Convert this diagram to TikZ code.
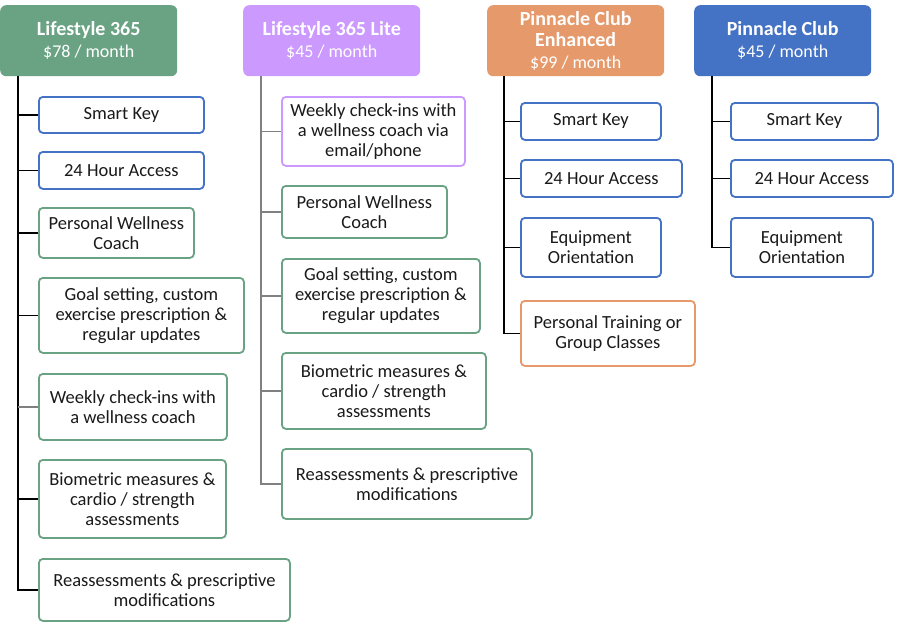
\documentclass[tikz,border=0pt]{standalone}
\usepackage{fontspec}
\setmainfont{Carlito}
\usetikzlibrary{positioning}

\definecolor{lsgreen}{HTML}{6AA384}
\definecolor{lspurple}{HTML}{CC99FF}
\definecolor{pcorange}{HTML}{E69A6C}
\definecolor{pcblue}{HTML}{4472C4}
\definecolor{textgray}{HTML}{1A1A1A}

\newcommand{\plan}[1]{{\bfseries\fontsize{20}{21}\selectfont #1}}

\begin{document}
\begin{tikzpicture}[x=1pt, y=-1pt,
    % Plan headers
    head/.style={rounded corners=6pt, text=white, align=center, anchor=north west,
        minimum width=177pt, minimum height=71pt, inner sep=0pt,
        font=\fontsize{18}{21.5}\selectfont},
    % Feature boxes
    feat/.style={draw=#1, line width=1.8pt, rounded corners=4pt, fill=white, text=textgray,
        align=center, anchor=north west, inner sep=0pt,
        font=\fontsize{18.5}{20}\selectfont},
    % Tree lines
    tree/.style={line width=1.4pt, draw=black}
]

% Background
\fill[white] (0,0) rectangle (900,640);

% Headers
\node[head, fill=lsgreen] (h1) at (0,5) {\plan{Lifestyle 365}\\\$78 / month};
\node[head, fill=lspurple] (h2) at (243,5) {\plan{Lifestyle 365 Lite}\\\$45 / month};
\node[head, fill=pcorange] (h3) at (487,5) {\plan{Pinnacle Club}\\\plan{Enhanced}\\\$99 / month};
\node[head, fill=pcblue] (h4) at (694,5) {\plan{Pinnacle Club}\\\$45 / month};

% Lifestyle 365
\node[feat=pcblue, minimum width=165pt, minimum height=36pt] (a1) at (38,96) {Smart Key};
\node[feat=pcblue, minimum width=165pt, minimum height=37pt] (a2) at (38,151) {24 Hour Access};
\node[feat=lsgreen, minimum width=155pt, minimum height=50pt] (a3) at (38,207) {Personal Wellness\\Coach};
\node[feat=lsgreen, minimum width=205pt, minimum height=75pt] (a4) at (38,277) {Goal setting, custom\\exercise prescription \&\\regular updates};
\node[feat=lsgreen, minimum width=188pt, minimum height=66pt] (a5) at (38,373) {Weekly check-ins with\\a wellness coach};
\node[feat=lsgreen, minimum width=187pt, minimum height=78pt] (a6) at (38,459) {Biometric measures \&\\cardio / strength\\assessments};
\node[feat=lsgreen, minimum width=251pt, minimum height=62pt] (a7) at (38,558) {Reassessments \& prescriptive\\modifications};

% Lifestyle 365 Lite
\node[feat=lspurple, minimum width=183pt, minimum height=69pt] (b1) at (281,96) {Weekly check-ins with\\a wellness coach via\\email/phone};
\node[feat=lsgreen, minimum width=165pt, minimum height=52pt] (b2) at (281,185) {Personal Wellness\\Coach};
\node[feat=lsgreen, minimum width=198pt, minimum height=74pt] (b3) at (281,258) {Goal setting, custom\\exercise prescription \&\\regular updates};
\node[feat=lsgreen, minimum width=204pt, minimum height=76pt] (b4) at (281,352) {Biometric measures \&\\cardio / strength\\assessments};
\node[feat=lsgreen, minimum width=250pt, minimum height=70pt] (b5) at (281,448) {Reassessments \& prescriptive\\modifications};

% Pinnacle Club Enhanced
\node[feat=pcblue, minimum width=140pt, minimum height=37pt] (c1) at (520,102) {Smart Key};
\node[feat=pcblue, minimum width=161pt, minimum height=37pt] (c2) at (520,159) {24 Hour Access};
\node[feat=pcblue, minimum width=140pt, minimum height=59pt] (c3) at (520,217) {Equipment\\Orientation};
\node[feat=pcorange, minimum width=174pt, minimum height=65pt] (c4) at (520,300) {Personal Training or\\Group Classes};

% Pinnacle Club
\node[feat=pcblue, minimum width=147pt, minimum height=37pt] (d1) at (730,102) {Smart Key};
\node[feat=pcblue, minimum width=162pt, minimum height=37pt] (d2) at (730,159) {24 Hour Access};
\node[feat=pcblue, minimum width=142pt, minimum height=59pt] (d3) at (730,217) {Equipment\\Orientation};

% Trunks
\coordinate (t1) at ([xshift=18pt]h1.south west);
\coordinate (t2) at ([xshift=18pt]h2.south west);
\coordinate (t3) at ([xshift=17pt]h3.south west);
\coordinate (t4) at ([xshift=18pt]h4.south west);

\foreach \b in {a1,a2,a3,a4,a6,a7}
    \draw[tree] (t1) |- (\b.west);
\draw[tree, draw=gray] (t1 |- a5.west) -- (a5.west);
\foreach \b in {b1,b2,b3,b4,b5}
    \draw[tree, draw=gray] (t2) |- (\b.west);
\foreach \b in {c1,c2,c3,c4}
    \draw[tree] (t3) |- (\b.west);
\foreach \b in {d1,d2,d3}
    \draw[tree] (t4) |- (\b.west);

\end{tikzpicture}
\end{document}
